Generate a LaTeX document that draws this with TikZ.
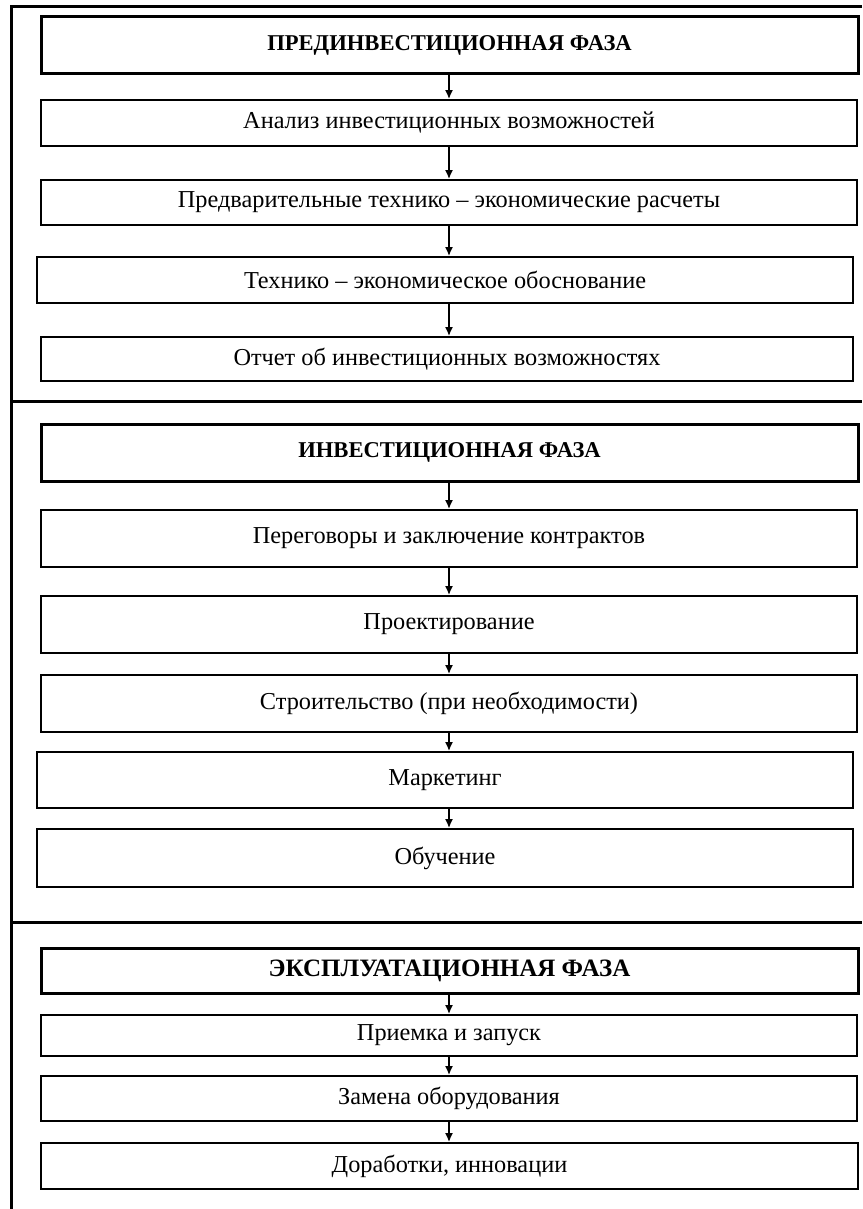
\documentclass[tikz,border=0pt]{standalone}
\usepackage{fontspec}
\setmainfont{Liberation Serif}
\usetikzlibrary{arrows.meta}
\tikzset{
  frameline/.style={line width=3pt},
  headbox/.style={draw, line width=3pt, inner sep=0pt, font=\fontsize{22.6}{25}\selectfont\bfseries},
  stagebox/.style={draw, line width=1.8pt, inner sep=0pt, font=\fontsize{24.3}{27}\selectfont},
  arr/.style={line width=1.7pt, -{Latex[length=9pt,width=8pt]}}
}
\newcommand{\bx}[7]{% name, style, l, r, t, b, text
  \node[#2, minimum width={(#4-#3)*1pt}, minimum height={(#6-#5)*1pt}] (#1) at ({(#3+#4)/2},{(#5+#6)/2}) {#7};}
\begin{document}
\begin{tikzpicture}[x=1pt,y=-1pt]
\useasboundingbox (0,0) rectangle (862,1209);
% outer frame
\coordinate (fTL) at (11,7);
\coordinate (fTR) at (862,7);
\coordinate (fBL) at (11,1209);
\coordinate (s1L) at (11,401);
\coordinate (s1R) at (862,401);
\coordinate (s2L) at (11,922);
\coordinate (s2R) at (862,922);
\draw[frameline] (fTR) -- (fTL) -- (fBL);
\draw[frameline] (s1L) -- (s1R);
\draw[frameline] (s2L) -- (s2R);
\coordinate (ax) at (449,0);
% phase 1
\bx{b1}{headbox}{41}{858}{17}{74}{ПРЕДИНВЕСТИЦИОННАЯ ФАЗА}
\bx{b2}{stagebox}{41}{857}{100}{146}{Анализ инвестиционных возможностей}
\bx{b3}{stagebox}{41}{857}{180}{225}{Предварительные технико – экономические расчеты}
\bx{b4}{stagebox}{37}{853}{257}{303}{Технико – экономическое обоснование}
\bx{b5}{stagebox}{41}{853}{337}{381}{Отчет об инвестиционных возможностях}
% phase 2
\bx{b6}{headbox}{41}{858}{424}{481}{ИНВЕСТИЦИОННАЯ ФАЗА}
\bx{b7}{stagebox}{41}{857}{510}{567}{Переговоры и заключение контрактов}
\bx{b8}{stagebox}{41}{857}{596}{653}{Проектирование}
\bx{b9}{stagebox}{41}{857}{675}{732}{Строительство (при необходимости)}
\bx{b10}{stagebox}{37}{853}{752}{808}{Маркетинг}
\bx{b11}{stagebox}{37}{853}{829}{887}{Обучение}
% phase 3
\bx{b12}{headbox, font=\fontsize{25}{28}\selectfont\bfseries}{41}{858}{948}{993}{ЭКСПЛУАТАЦИОННАЯ ФАЗА}
\bx{b13}{stagebox}{41}{857}{1015}{1056}{Приемка и запуск}
\bx{b14}{stagebox}{41}{857}{1076}{1121}{Замена оборудования}
\bx{b15}{stagebox}{41}{858}{1143}{1189}{Доработки, инновации}
% arrows
\foreach \a/\b in {b1/b2,b2/b3,b3/b4,b4/b5,b6/b7,b7/b8,b8/b9,b9/b10,b10/b11,b12/b13,b13/b14,b14/b15}
  \draw[arr] (\a.south -| ax) -- (\b.north -| ax);
\end{tikzpicture}
\end{document}
